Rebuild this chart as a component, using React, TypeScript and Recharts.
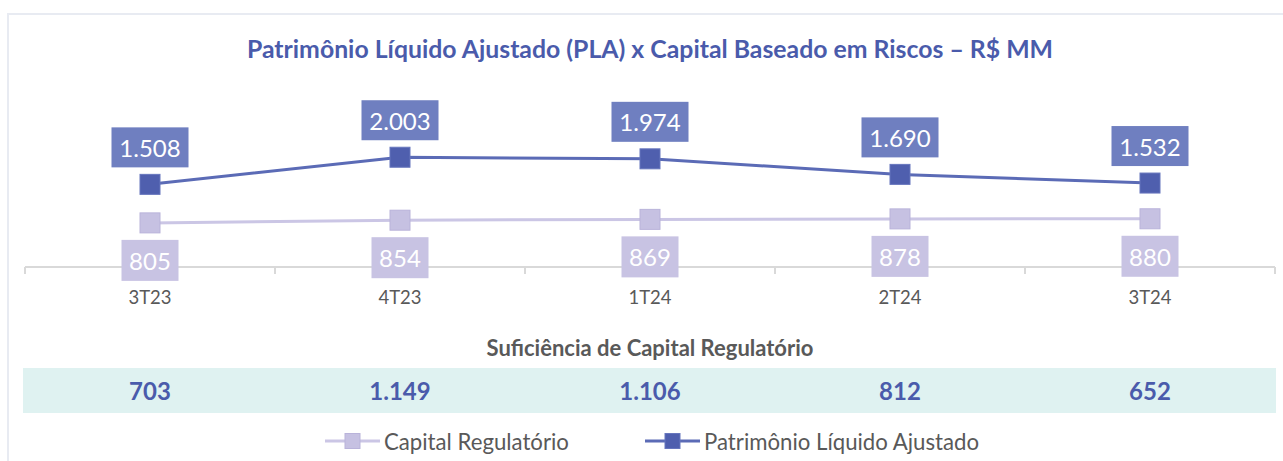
import React from 'react';
import { LineChart, Line, XAxis, YAxis, LabelList } from 'recharts';

const categories = ['3T23', '4T23', '1T24', '2T24', '3T24'];
const capitalRegulatorio = [805, 854, 869, 878, 880];
const patrimonioLiquido = [1508, 2003, 1974, 1690, 1532];
const suficiencia = [703, 1149, 1106, 812, 652];

const FONT = 'Lato, "Open Sans", sans-serif';
const BLUE = '#4a5bab';
const GRAY = '#595959';
const BAND = 250;

const fmt = (v: number) => String(v).replace(/\B(?=(\d{3})+(?!\d))/g, '.');

const data = categories.map((c, i) => ({
  cat: c,
  capital: capitalRegulatorio[i],
  pla: patrimonioLiquido[i],
}));

const SquareDot = (fill: string, stroke: string, size: number) => (props: any) => {
  const { cx, cy, index } = props;
  if (cx == null || cy == null) return null;
  return (
    <rect
      key={index}
      x={cx - size / 2}
      y={cy - size / 2}
      width={size}
      height={size}
      fill={fill}
      stroke={stroke}
      strokeWidth={1}
    />
  );
};

const PlaLabel = (props: any) => {
  const { x, y, value } = props;
  const w = 77;
  const h = 40;
  return (
    <g>
      <rect x={x - w / 2} y={y - 17 - h} width={w} height={h} fill="#6f7fc0" />
      <text x={x} y={y - 17 - h / 2} textAnchor="middle" dominantBaseline="central" fill="#fff" fontSize={24} fontFamily={FONT}>
        {fmt(value)}
      </text>
    </g>
  );
};

const CapitalLabel = (props: any) => {
  const { x, y, value } = props;
  const w = 57;
  const h = 41;
  return (
    <g>
      <rect x={x - w / 2} y={y + 17} width={w} height={h} fill="#c8c3e3" />
      <text x={x} y={y + 17 + h / 2} textAnchor="middle" dominantBaseline="central" fill="#fff" fontSize={24} fontFamily={FONT}>
        {fmt(value)}
      </text>
    </g>
  );
};

const CategoryTick = (props: any) => {
  const { x, y, payload, index } = props;
  return (
    <g>
      {index === 0 && <line x1={x - BAND / 2} x2={x - BAND / 2} y1={y - 8} y2={y - 1} stroke="#d9d9d9" strokeWidth={2} />}
      <line x1={x + BAND / 2} x2={x + BAND / 2} y1={y - 8} y2={y - 1} stroke="#d9d9d9" strokeWidth={2} />
      <text x={x} y={y + 22} textAnchor="middle" dominantBaseline="central" fill={GRAY} fontSize={18.5} fontFamily={FONT}>
        {payload.value}
      </text>
    </g>
  );
};

const LegendItem = ({ left, label, line, fill, stroke }: any) => (
  <div style={{ position: 'absolute', left, top: 428, height: 26, display: 'flex', alignItems: 'center' }}>
    <svg width={58} height={26}>
      <line x1={1} x2={56} y1={13} y2={13} stroke={line} strokeWidth={3} />
      <rect x={21} y={5.5} width={15} height={15} fill={fill} stroke={stroke} />
    </svg>
    <span style={{ marginLeft: 2, fontSize: 22.2, color: GRAY, fontFamily: FONT }}>{label}</span>
  </div>
);

export default function App() {
  return (
    <div style={{ position: 'absolute', left: 0, top: 0, width: 1283, height: 461, background: '#fff', overflow: 'hidden' }}>
      <div style={{ position: 'absolute', left: 7, top: 13, width: 1290, height: 470, border: '2px solid #e8ebf2', boxSizing: 'border-box' }} />
      <div
        style={{
          position: 'absolute', left: 0, width: 1300, top: 34, textAlign: 'center',
          fontFamily: FONT, fontWeight: 700, fontSize: 24.8, color: BLUE,
        }}
      >
        Patrimônio Líquido Ajustado (PLA) x Capital Baseado em Riscos – R$ MM
      </div>
      <div style={{ position: 'absolute', left: 0, top: 0 }}>
        <LineChart width={1283} height={320} data={data} margin={{ top: 130, right: 8, left: 25, bottom: 23 }}>
          <XAxis
            dataKey="cat"
            axisLine={{ stroke: '#d9d9d9', strokeWidth: 2 }}
            tickLine={false}
            tick={<CategoryTick />}
            height={30}
            interval={0}
            padding={{ left: BAND / 2, right: BAND / 2 }}
          />
          <YAxis hide domain={[0, 2500]} />
          <Line
            dataKey="capital"
            stroke="#cbc6e5"
            strokeWidth={3}
            dot={SquareDot('#c6c1e2', '#b9b3da', 20)}
            activeDot={false}
            isAnimationActive={false}
          >
            <LabelList dataKey="capital" content={<CapitalLabel />} />
          </Line>
          <Line
            dataKey="pla"
            stroke="#5b6bb6"
            strokeWidth={3}
            dot={SquareDot('#4f5fae', '#6776bd', 20)}
            activeDot={false}
            isAnimationActive={false}
          >
            <LabelList dataKey="pla" content={<PlaLabel />} />
          </Line>
        </LineChart>
      </div>
      <div
        style={{
          position: 'absolute', left: 0, width: 1300, top: 334, textAlign: 'center',
          fontFamily: FONT, fontWeight: 700, fontSize: 22, color: GRAY,
        }}
      >
        Suficiência de Capital Regulatório
      </div>
      <div style={{ position: 'absolute', left: 23, top: 368, width: 1253, height: 45, background: '#dff2f1' }}>
        {suficiencia.map((v, i) => (
          <div
            key={categories[i]}
            style={{
              position: 'absolute', left: 2 + i * BAND, width: BAND, top: 0, height: 45, lineHeight: '45px',
              textAlign: 'center', fontFamily: FONT, fontWeight: 700, fontSize: 24, color: BLUE,
            }}
          >
            {fmt(v)}
          </div>
        ))}
      </div>
      <LegendItem left={324} label="Capital Regulatório" line="#cbc6e5" fill="#c6c1e2" stroke="#b9b3da" />
      <LegendItem left={644} label="Patrimônio Líquido Ajustado" line="#5b6bb6" fill="#4f5fae" stroke="#6776bd" />
    </div>
  );
}
